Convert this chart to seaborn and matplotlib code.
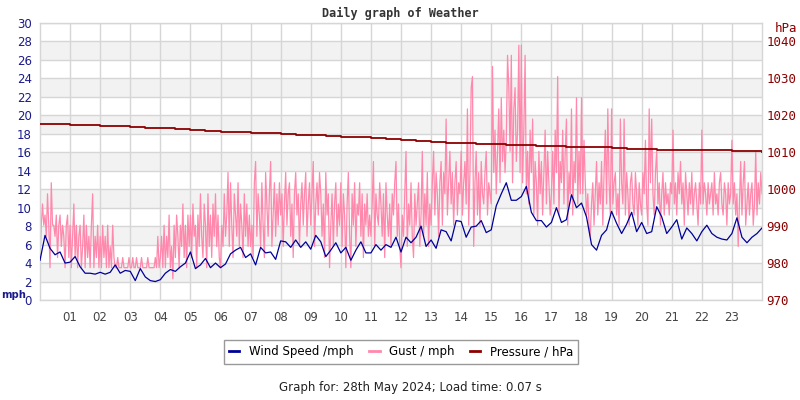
import numpy as np
import pandas as pd
import matplotlib
matplotlib.use("Agg")
import matplotlib.pyplot as plt
import seaborn as sns
from matplotlib.lines import Line2D

# ---------------- data ----------------
hour_labels = ["%02d" % h for h in range(1, 24)]

# wind speed (mph), 10-minute readings, 00:00 .. 24:00
wind_speed = [
    4.3, 7.0, 5.6, 4.9, 5.2, 4.0,
    4.1, 4.7, 3.6, 2.9, 2.9, 2.8,
    3.0, 2.8, 3.0, 3.8, 2.9, 3.2,
    3.1, 2.1, 3.4, 2.5, 2.1, 2.0,
    2.2, 2.9, 3.3, 3.1, 3.6, 4.0,
    5.2, 3.4, 3.8, 4.5, 3.5, 4.0,
    3.5, 3.9, 5.0, 5.4, 5.7, 4.6,
    5.0, 3.8, 5.7, 5.1, 5.2, 4.4,
    6.4, 6.3, 5.7, 6.5, 5.7, 6.3,
    5.5, 7.0, 6.3, 4.7, 5.4, 6.2,
    5.1, 5.7, 4.3, 5.4, 6.3, 5.1,
    5.1, 6.0, 5.4, 6.0, 5.7, 6.8,
    5.2, 6.8, 6.2, 6.8, 8.0, 5.8,
    6.5, 5.6, 7.6, 7.4, 6.4, 8.6,
    8.5, 6.8, 7.9, 8.0, 8.6, 7.3,
    7.6, 10.2, 11.5, 12.7, 10.8, 10.8,
    11.2, 12.3, 9.5, 8.6, 8.6, 7.9,
    8.4, 10.0, 8.4, 8.7, 11.4, 10.0,
    10.5, 9.0, 6.0, 5.4, 7.0, 7.6,
    9.6, 8.3, 7.2, 8.2, 9.5, 7.4,
    8.4, 7.2, 7.4, 10.1, 9.0, 7.2,
    7.9, 8.7, 6.6, 7.8, 7.2, 6.4,
    7.4, 8.1, 7.2, 6.8, 6.6, 6.5,
    7.2, 8.9, 6.8, 6.2, 6.8, 7.2,
    7.8,
]

# gust (mph), 2.5-minute readings, 00:00 .. 24:00
gust = [
    4.6, 8.1, 10.4, 8.1, 9.2, 6.9, 11.5, 8.1, 3.5, 12.7, 8.1, 8.1, 6.9, 9.2, 4.6, 8.1, 9.2, 5.8, 8.1, 6.9, 3.5, 8.1, 9.2, 4.6,
    8.1, 3.5, 6.9, 10.4, 4.6, 8.1, 3.5, 6.9, 8.1, 3.5, 5.8, 9.2, 3.5, 8.1, 4.6, 6.9, 3.5, 8.1, 11.5, 3.5, 6.9, 4.6, 8.1, 3.5,
    6.9, 3.5, 8.1, 4.6, 6.9, 3.5, 8.1, 3.5, 5.8, 3.5, 8.1, 4.6, 3.5, 3.5, 4.6, 3.5, 3.5, 3.5, 4.6, 3.5, 3.5, 3.5, 3.5, 4.6,
    3.5, 3.5, 4.6, 3.5, 3.5, 4.6, 3.5, 3.5, 3.5, 4.6, 3.5, 3.5, 3.5, 3.5, 4.6, 3.5, 3.5, 3.5, 3.5, 3.5, 4.6, 3.5, 6.9, 3.5,
    4.6, 6.9, 3.5, 8.1, 3.5, 6.9, 4.6, 9.2, 3.5, 5.8, 2.3, 8.1, 4.6, 9.2, 6.9, 3.5, 8.1, 5.8, 10.4, 4.6, 8.1, 3.5, 9.2, 5.8,
    9.2, 4.6, 10.4, 6.9, 8.1, 3.5, 9.2, 5.8, 11.5, 6.9, 4.6, 10.4, 8.1, 3.5, 11.5, 5.8, 9.2, 4.6, 10.4, 6.9, 11.5, 5.8, 9.2, 4.6,
    3.5, 8.1, 5.8, 11.5, 6.9, 9.2, 13.8, 5.8, 12.7, 8.1, 4.6, 11.5, 9.2, 6.9, 12.7, 5.8, 10.4, 8.1, 4.6, 11.5, 6.9, 10.4, 5.8, 9.2,
    5.8, 8.1, 4.6, 12.7, 15.0, 6.9, 11.5, 9.2, 5.8, 12.7, 8.1, 4.6, 13.8, 10.4, 6.9, 11.5, 15.0, 5.8, 9.2, 12.7, 6.9, 11.5, 8.1, 12.7,
    9.2, 11.5, 5.8, 10.4, 13.8, 8.1, 11.5, 12.7, 6.9, 10.4, 4.6, 11.5, 13.8, 9.2, 11.5, 5.8, 10.4, 12.7, 8.1, 11.5, 13.8, 6.9, 10.4, 12.7,
    8.1, 11.5, 15.0, 5.8, 10.4, 12.7, 9.2, 13.8, 11.5, 6.9, 10.4, 4.6, 13.8, 9.2, 11.5, 3.5, 8.1, 11.5, 5.8, 10.4, 12.7, 6.9, 10.4, 8.1,
    12.7, 5.8, 11.5, 9.2, 3.5, 10.4, 13.8, 6.9, 3.5, 11.5, 8.1, 12.7, 5.8, 10.4, 9.2, 12.7, 6.9, 11.5, 4.6, 10.4, 8.1, 11.5, 6.9, 9.2,
    6.9, 10.4, 15.0, 5.8, 11.5, 9.2, 8.1, 12.7, 10.4, 6.9, 11.5, 4.6, 12.7, 9.2, 6.9, 10.4, 5.8, 11.5, 9.2, 12.7, 15.0, 6.9, 10.4, 5.8,
    3.5, 9.2, 6.9, 11.5, 16.1, 5.8, 10.4, 8.1, 12.7, 6.9, 4.6, 11.5, 8.1, 10.4, 12.7, 5.8, 9.2, 16.1, 6.9, 11.5, 8.1, 13.8, 5.8, 10.4,
    8.1, 12.7, 16.1, 9.2, 13.8, 11.5, 6.9, 12.7, 15.0, 8.1, 13.8, 11.5, 19.6, 9.2, 12.7, 16.1, 10.4, 13.8, 8.1, 12.7, 15.0, 9.2, 12.7, 11.5,
    16.1, 9.2, 12.7, 15.0, 10.4, 20.7, 8.1, 13.8, 23.0, 24.2, 5.8, 12.7, 16.1, 9.2, 13.8, 8.1, 15.0, 11.5, 10.4, 13.8, 16.1, 9.2, 12.7, 11.5,
    10.4, 25.3, 13.8, 18.4, 11.5, 16.1, 20.7, 12.7, 21.9, 15.0, 18.4, 13.8, 17.3, 26.5, 23.0, 16.1, 26.5, 12.7, 20.7, 23.0, 15.0, 18.4, 27.6, 13.8,
    27.6, 12.7, 18.4, 26.5, 11.5, 16.1, 10.4, 18.4, 13.8, 19.6, 9.2, 15.0, 12.7, 8.1, 16.1, 11.5, 15.0, 9.2, 13.8, 18.4, 10.4, 16.1, 12.7, 9.2,
    11.5, 16.1, 10.4, 18.4, 13.8, 24.2, 9.2, 15.0, 12.7, 18.4, 10.4, 16.1, 19.6, 8.1, 13.8, 11.5, 20.7, 9.2, 15.0, 12.7, 21.9, 10.4, 16.1, 11.5,
    21.9, 11.5, 17.3, 12.7, 9.2, 11.5, 8.1, 6.9, 10.4, 12.7, 8.1, 11.5, 15.0, 9.2, 12.7, 10.4, 15.0, 8.1, 13.8, 18.4, 10.4, 20.7, 12.7, 9.2,
    20.7, 10.4, 12.7, 13.8, 9.2, 11.5, 8.1, 19.6, 12.7, 10.4, 19.6, 9.2, 13.8, 11.5, 8.1, 12.7, 13.8, 10.4, 9.2, 13.8, 11.5, 8.1, 12.7, 10.4,
    9.2, 13.8, 11.5, 17.3, 10.4, 8.1, 20.7, 12.7, 19.6, 11.5, 9.2, 13.8, 16.1, 10.4, 12.7, 8.1, 11.5, 13.8, 9.2, 12.7, 10.4, 11.5, 9.2, 12.7,
    11.5, 18.4, 10.4, 12.7, 9.2, 13.8, 11.5, 15.0, 10.4, 12.7, 8.1, 13.8, 11.5, 9.2, 12.7, 10.4, 13.8, 9.2, 11.5, 12.7, 10.4, 8.1, 12.7, 10.4,
    18.4, 10.4, 12.7, 11.5, 9.2, 12.7, 10.4, 11.5, 12.7, 9.2, 13.8, 10.4, 11.5, 9.2, 12.7, 13.8, 10.4, 9.2, 12.7, 11.5, 8.1, 12.7, 10.4, 11.5,
    17.3, 10.4, 12.7, 9.2, 11.5, 5.8, 10.4, 15.0, 9.2, 12.7, 15.0, 8.1, 10.4, 12.7, 9.2, 11.5, 12.7, 8.1, 10.4, 16.1, 9.2, 12.7, 10.4, 13.8,
    11.5,
]

# pressure (hPa), 30-minute readings, 00:00 .. 24:00
pressure = [
    1017.7, 1017.6, 1017.5, 1017.5, 1017.2, 1017.0, 1016.8, 1016.5,
    1016.5, 1016.3, 1016.0, 1015.8, 1015.6, 1015.5, 1015.3, 1015.1,
    1015.0, 1014.8, 1014.6, 1014.4, 1014.1, 1014.0, 1013.8, 1013.5,
    1013.3, 1013.1, 1012.7, 1012.4, 1012.4, 1012.3, 1012.2, 1012.0,
    1011.9, 1011.8, 1011.7, 1011.4, 1011.5, 1011.3, 1011.2, 1011.0,
    1010.9, 1010.7, 1010.6, 1010.6, 1010.5, 1010.5, 1010.4, 1010.3,
    1010.2,
]

df_wind = pd.DataFrame({"hour": np.linspace(0, 24, len(wind_speed)), "mph": wind_speed})
df_gust = pd.DataFrame({"hour": np.linspace(0, 24, len(gust)), "mph": gust})
df_pres = pd.DataFrame({"hour": np.linspace(0, 24, len(pressure)), "hPa": pressure})

# ---------------- style ----------------
WIND_C = "#000099"
GUST_C = "#ff88ac"
PRES_C = "#8b0000"
GRID_C = "#d6d6d6"
BAND_C = "#f2f2f2"
LEFT_TXT = "#1a1a8c"
FS = 8.5

fig = plt.figure(figsize=(8, 4), dpi=100)
fig.patch.set_facecolor("white")
ax = fig.add_axes([40 / 800, 100 / 400, 722 / 800, 277 / 400])
ax.set_facecolor("white")
ax.set_xlim(0, 24)
ax.set_ylim(0, 30)

for lo in range(2, 28, 4):
    ax.axhspan(lo, lo + 2, color=BAND_C, lw=0, zorder=0)

ax.set_yticks(range(0, 31, 2))
ax.set_xticks(range(1, 24))
ax.set_xticklabels(hour_labels)
ax.grid(True, color=GRID_C, lw=1, zorder=0.5)
ax.set_axisbelow(True)
ax.tick_params(axis="both", length=0, labelsize=FS)
ax.tick_params(axis="y", colors=LEFT_TXT, pad=6)
ax.tick_params(axis="x", colors="#444444", pad=8)
for s in ax.spines.values():
    s.set_color(GRID_C)
    s.set_linewidth(1)

sns.lineplot(data=df_gust, x="hour", y="mph", ax=ax, color=GUST_C, lw=0.9, zorder=2)
sns.lineplot(data=df_wind, x="hour", y="mph", ax=ax, color=WIND_C, lw=0.9, zorder=3)
ax.set_xlabel("")
ax.set_ylabel("")

ax2 = ax.twinx()
ax2.set_ylim(970, 1045)
ax2.set_xlim(0, 24)
ax2.set_yticks(range(970, 1041, 10))
sns.lineplot(data=df_pres, x="hour", y="hPa", ax=ax2, color=PRES_C, lw=1.3,
             drawstyle="steps-post", zorder=4)
ax2.set_ylabel("")
ax2.set_xlabel("")
ax2.tick_params(axis="y", length=0, labelsize=FS + 0.5, colors=PRES_C, pad=3)
for lab in ax2.get_yticklabels():
    lab.set_family("DejaVu Sans Mono")
for s in ax2.spines.values():
    s.set_visible(False)

fig.text(1 / 800, 1 - 295 / 400, "mph", color=LEFT_TXT, fontsize=7.2,
         fontweight="bold", ha="left", va="center")
fig.text(786 / 800, 1 - 29 / 400, "hPa", color=PRES_C, fontsize=FS + 0.5,
         ha="center", va="center", family="DejaVu Sans Mono")

fig.text(400 / 800, 1 - 13 / 400, "Daily graph of Weather", family="DejaVu Sans Mono",
         fontweight="bold", fontsize=FS, color="#333333", ha="center", va="center")

handles = [Line2D([], [], color=WIND_C, lw=2),
           Line2D([], [], color=GUST_C, lw=2),
           Line2D([], [], color=PRES_C, lw=2)]
labels = ["Wind Speed /mph", "Gust / mph", "Pressure / hPa"]
leg = fig.legend(handles, labels, loc="center", bbox_to_anchor=(401 / 800, 1 - 352 / 400),
                 ncol=3, frameon=True, fancybox=False, edgecolor="#808080",
                 fontsize=FS, handlelength=0.9, handletextpad=0.8, columnspacing=1.3,
                 borderpad=0.45, borderaxespad=0)
leg.get_frame().set_linewidth(1)

fig.text(410 / 800, 1 - 388 / 400, "Graph for: 28th May 2024; Load time: 0.07 s",
         fontsize=FS, color="#222222", ha="center", va="center")

fig.savefig("out.png", dpi=100, facecolor="white")
